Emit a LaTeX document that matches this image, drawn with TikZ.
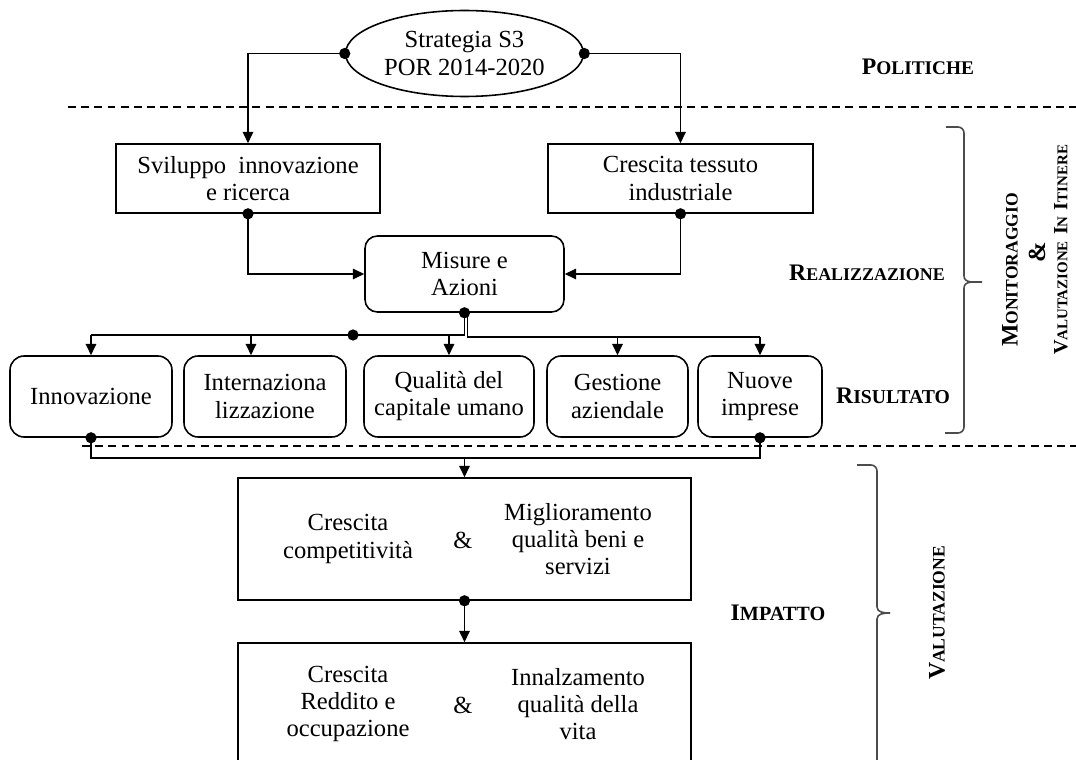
\documentclass[tikz,border=0pt]{standalone}
\usepackage{fontspec}
\setmainfont{Liberation Serif}
\usetikzlibrary{arrows.meta,shapes.geometric}
\newcommand{\smc}[4]{{\bfseries\fontsize{#1}{#1}\selectfont #3\fontsize{#2}{#2}\selectfont #4}}
\begin{document}
\begin{tikzpicture}[x=0.02cm,y=-0.02cm,
  line width=0.9pt,
  every node/.style={font=\fontsize{14}{15.4}\selectfont, align=center, inner sep=0pt},
  sqbox/.style={draw, rectangle},
  rbox/.style={draw, rectangle, rounded corners=8pt},
  ellbox/.style={draw, ellipse},
  arr/.style={-{Triangle[length=6.5pt,width=6pt]}},
  dashline/.style={dash pattern=on 4.5pt off 3pt, line width=0.75pt},
  brace/.style={line width=0.9pt, black!70},
  jd/.style={fill=black}
]
\useasboundingbox (0,0) rectangle (1076,760);
\fill[white] (0,0) rectangle (1076,760);
\clip (0,0) rectangle (1076,760);

% nodes
\node[ellbox, minimum width=4.76cm, minimum height=1.72cm] (s3) at (464.5,53.5) {Strategia S3\\POR 2014-2020};
\node[sqbox, minimum width=5.28cm, minimum height=1.38cm] (svi) at (248,178.5) {Sviluppo~ innovazione\\e ricerca};
\node[sqbox, minimum width=5.30cm, minimum height=1.38cm] (cre) at (680.5,178.5) {Crescita tessuto\\industriale};
\node[rbox, rounded corners=7pt, minimum width=3.98cm, minimum height=1.52cm] (mis) at (464.5,274) {Misure e\\Azioni};

\node[rbox, minimum width=3.24cm, minimum height=1.62cm] (inn) at (91,396.5) {Innovazione};
\node[rbox, minimum width=3.24cm, minimum height=1.62cm] (int) at (265,396.5) {Internaziona\\lizzazione};
\node[rbox, minimum width=3.40cm, minimum height=1.62cm] (qua) at (449,396.5) {Qualità del\\capitale umano};
\node[rbox, minimum width=2.82cm, minimum height=1.62cm] (ges) at (617.5,396.5) {Gestione\\aziendale};
\node[rbox, minimum width=2.48cm, minimum height=1.62cm] (nuo) at (760,396.5) {Nuove\\imprese};

\node[sqbox, minimum width=9.06cm, minimum height=2.44cm] (imp1) at (464.5,539) {};
\node (c1) at (348,539) {Crescita\\competitività};
\node (a1) at (463,540) {\&};
\node (m1) at (578,539) {Miglioramento\\qualità beni e\\servizi};

\node[sqbox, minimum width=9.06cm, minimum height=2.74cm] (imp2) at (464.5,711.5) {};
\node (c2) at (348,704) {Crescita\\Reddito e\\occupazione};
\node (a2) at (463,705) {\&};
\node (m2) at (578,704) {Innalzamento\\qualità della\\vita};

% connectors
\draw[arr] (s3.west) -| (svi.north);
\draw[arr] (s3.east) -| (cre.north);
\fill[jd] (s3.west) circle (3.2pt);
\fill[jd] (s3.east) circle (3.2pt);

\draw[arr] (svi.south) |- (mis.west);
\draw[arr] (cre.south) |- (mis.east);
\fill[jd] (svi.south) circle (3.2pt);
\fill[jd] (cre.south) circle (3.2pt);

\coordinate (hL) at (464.5,335);
\coordinate (hR) at (467.5,337);
\coordinate (aInt) at (251,335);
\coordinate (jmid) at (353,335);
\draw (mis.south) -- (hL) -- (hL -| inn.north);
\draw[arr] (hL -| inn.north) -- (inn.north);
\draw[arr] (aInt) -- (aInt |- int.north);
\draw[arr] (hL -| qua.north) -- (qua.north);
\draw (hR |- mis.south) -- (hR) -- (hR -| nuo.north);
\draw[arr] (hR -| ges.north) -- (ges.north);
\draw[arr] (hR -| nuo.north) -- (nuo.north);
\fill[jd] (mis.south) circle (3.2pt);
\fill[jd] (jmid) circle (3.2pt);

\coordinate (hB) at (464.5,458);
\draw (inn.south) -- (inn.south |- hB) -- (hB -| nuo.south) -- (nuo.south);
\draw[arr] (hB) -- (imp1.north);
\fill[jd] (inn.south) circle (3.2pt);
\fill[jd] (nuo.south) circle (3.2pt);

\draw[arr] (imp1.south) -- (imp2.north);
\fill[jd] (imp1.south) circle (3.2pt);

% dashed separators
\draw[dashline] (68,107) -- (1076,107);
\draw[dashline] (82,446) -- (1076,446);

% braces
\draw[brace] (946,127) -- (958,127) to[out=0,in=90] (964,133) -- (964,276) to[out=-90,in=180] (982,282);
\draw[brace] (982,282) to[out=180,in=90] (964,288) -- (964,427) to[out=-90,in=0] (958,433) -- (945,433);
\draw[brace] (857,465) -- (871,465) to[out=0,in=90] (877,471) -- (877,607) to[out=-90,in=180] (890,613);
\draw[brace] (890,613) to[out=180,in=90] (877,619) -- (877,780);

% labels
\node (lpol) at (918,67) {\smc{13.5}{11}{P}{OLITICHE}};
\node (lrea) at (867,273) {\smc{13.5}{10.2}{R}{EALIZZAZIONE}};
\node (lris) at (893,396) {\smc{13.5}{11.2}{R}{ISULTATO}};
\node (limp) at (778,613) {\smc{13.5}{11.5}{I}{MPATTO}};
\node[rotate=90] (lval) at (937,613) {\smc{13.5}{10}{V}{ALUTAZIONE}};
\node[rotate=90] (lmon) at (1010,270) {\smc{13.5}{10}{M}{ONITORAGGIO}};
\node[rotate=90] (lamp) at (1037,252) {\textbf{\&}};
\node[rotate=90] (lvit) at (1061,250) {\smc{11.5}{8.5}{V}{ALUTAZIONE} \smc{11.5}{8.5}{I}{N} \smc{11.5}{8.5}{I}{TINERE}};
\end{tikzpicture}
\end{document}
